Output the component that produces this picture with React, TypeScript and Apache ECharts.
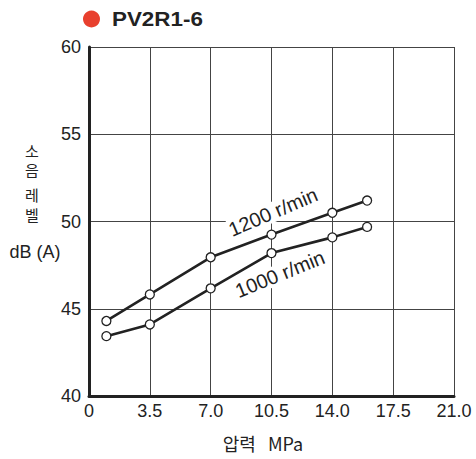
import React, { useEffect, useRef } from "react";
import * as echarts from "echarts";

const pressure = [1, 3.5, 7, 10.5, 14, 16];
const rpm1200 = [44.3, 45.82, 47.95, 49.25, 50.5, 51.2];
const rpm1000 = [43.43, 44.1, 46.17, 48.19, 49.09, 49.69];
const xTicks = ["0", "3.5", "7.0", "10.5", "14.0", "17.5", "21.0"];
const title = "PV2R1-6";

export default function App() {
  const ref = useRef<HTMLDivElement>(null);
  useEffect(() => {
    const chart = echarts.init(ref.current!, undefined, { renderer: "svg" });
    const font = "'Liberation Sans', Arial, sans-serif";
    const kr = "'Noto Sans CJK KR', sans-serif";
    const mk = (vals: number[]) => pressure.map((p, i) => [p, vals[i]]);
    const lineSeries = (name: string, vals: number[]) => ({
      name,
      type: "line",
      data: mk(vals),
      symbol: "circle",
      symbolSize: 9,
      itemStyle: { color: "#fff", borderColor: "#222", borderWidth: 1.3 },
      lineStyle: { color: "#222", width: 2.6 },
      z: 3,
    });
    const krChar = (t: string, y: number) => ({
      type: "text",
      x: 32,
      y,
      style: { text: t, fontSize: 15, lineHeight: 15, fill: "#222", fontFamily: kr, align: "center", verticalAlign: "middle" },
    });
    chart.setOption({
      animation: false,
      grid: { left: 89, right: 22, top: 47, bottom: 63 },
      xAxis: {
        type: "value",
        min: 0,
        max: 21,
        interval: 3.5,
        axisLine: { show: true, lineStyle: { color: "#222", width: 3 } },
        axisTick: { show: false },
        splitLine: { show: true, lineStyle: { color: "#444", width: 1 } },
        axisLabel: {
          color: "#222",
          fontSize: 18,
          fontFamily: font,
          margin: 6,
          formatter: (v: number) => {
            const i = Math.round(v / 3.5);
            return xTicks[i] ?? "";
          },
        },
      },
      yAxis: {
        type: "value",
        min: 40,
        max: 60,
        interval: 5,
        axisLine: { show: true, lineStyle: { color: "#222", width: 3 } },
        axisTick: { show: false },
        splitLine: { show: true, lineStyle: { color: "#444", width: 1 } },
        axisLabel: { color: "#222", fontSize: 18, fontFamily: font, margin: 8 },
      },
      series: [lineSeries("1200 r/min", rpm1200), lineSeries("1000 r/min", rpm1000)],
      graphic: [
        { type: "circle", shape: { cx: 91.5, cy: 19, r: 8.5 }, style: { fill: "#e8402e" } },
        {
          type: "text",
          x: 112,
          y: 19,
          scaleX: 1.12,
          style: { text: title, fontSize: 20, fontWeight: "bold", fill: "#222", fontFamily: font, verticalAlign: "middle" },
        },
        krChar("소", 150),
        krChar("음", 169),
        krChar("레", 194),
        krChar("벨", 214),
        { type: "text", x: 35, y: 252, style: { text: "dB (A)", fontSize: 18, fill: "#222", fontFamily: font, align: "center", verticalAlign: "middle" } },
        { type: "text", x: 263, y: 443, style: { text: "압력   MPa", fontSize: 18, fill: "#222", fontFamily: kr, align: "center", verticalAlign: "middle" } },
        {
          type: "text",
          x: 273,
          y: 212,
          rotation: (23 * Math.PI) / 180,
          style: { text: "1200 r/min", fontSize: 20, fill: "#222", fontFamily: font, align: "center", verticalAlign: "middle", backgroundColor: "#fff" },
          z: 2,
        },
        {
          type: "text",
          x: 280,
          y: 274,
          rotation: (22 * Math.PI) / 180,
          style: { text: "1000 r/min", fontSize: 20, fill: "#222", fontFamily: font, align: "center", verticalAlign: "middle", backgroundColor: "#fff" },
          z: 2,
        },
      ],
    });
    return () => chart.dispose();
  }, []);
  return <div ref={ref} style={{ width: 476, height: 459, position: "absolute", left: 0, top: 0 }} />;
}
